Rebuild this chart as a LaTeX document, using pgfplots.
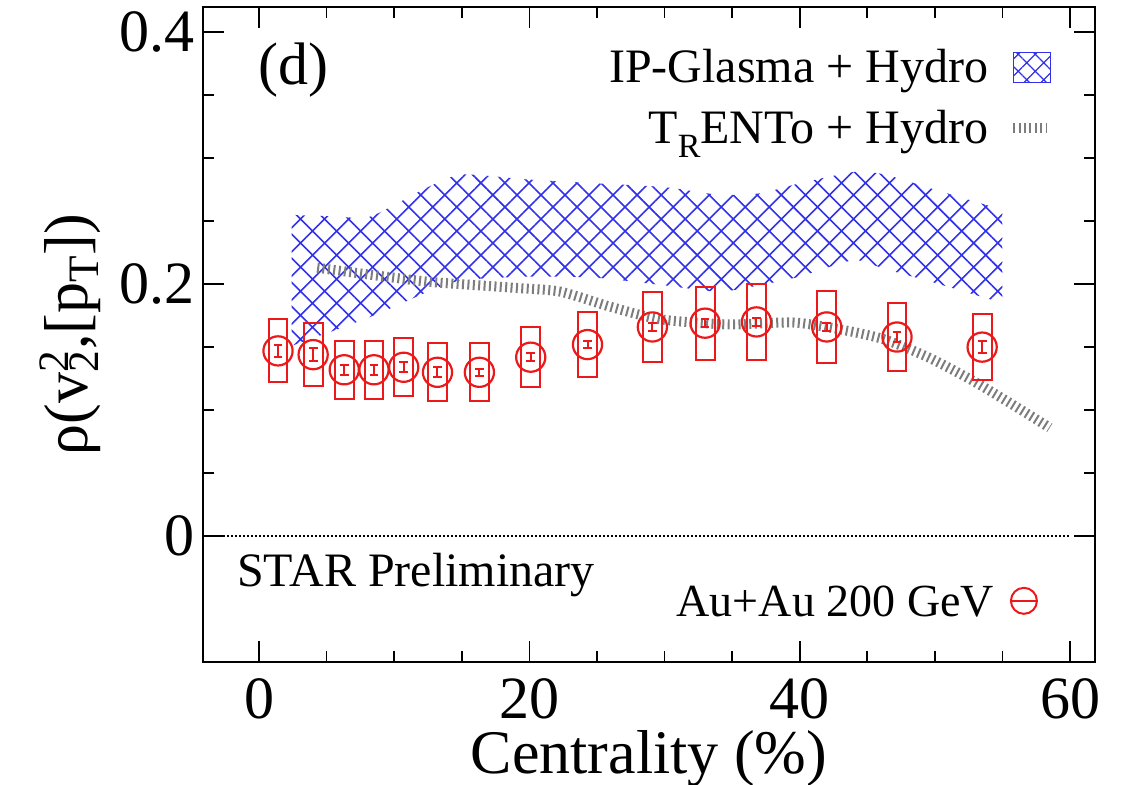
\documentclass[border=0pt]{standalone}
\usepackage{fontspec}
\setmainfont{Liberation Serif}
\usepackage{pgfplots}
\pgfplotsset{compat=1.18}
\usepackage{pgfplotstable}
\usepgfplotslibrary{fillbetween}
\usetikzlibrary{patterns.meta}

\definecolor{starred}{RGB}{235,25,25}
\definecolor{ipblue}{RGB}{50,50,235}
\definecolor{trgray}{RGB}{125,125,125}

% STAR preliminary points: centrality, rho, statistical and systematic errors
\pgfplotstableread{
x     y      stat   sys
1.4   0.147  0.005  0.025
4.0   0.144  0.005  0.025
6.3   0.132  0.004  0.023
8.5   0.132  0.004  0.023
10.7  0.134  0.004  0.023
13.2  0.130  0.004  0.023
16.3  0.130  0.003  0.023
20.1  0.142  0.003  0.024
24.3  0.152  0.003  0.026
29.1  0.166  0.003  0.028
33.0  0.169  0.003  0.029
36.8  0.170  0.003  0.030
42.0  0.166  0.003  0.0285
47.2  0.158  0.004  0.027
53.5  0.150  0.005  0.026
}\stardata

% IP-Glasma + Hydro band: lower and upper edges
\pgfplotstableread{
x     lo     hi
2.4   0.151  0.255
5.0   0.161  0.254
8.0   0.173  0.253
10.2  0.183  0.264
12.5  0.194  0.277
15.0  0.203  0.287
20.0  0.206  0.283
25.0  0.205  0.280
30.0  0.199  0.277
34.0  0.194  0.271
37.0  0.199  0.272
40.0  0.206  0.280
44.0  0.219  0.289
46.3  0.212  0.287
50.0  0.201  0.275
55.0  0.185  0.259
}\ipglasma

% TRENTo + Hydro curve
\pgfplotstableread{
x     y
4.3   0.213
8.2   0.2075
12.4  0.202
15.6  0.1995
19.0  0.197
22.3  0.194
26.0  0.182
29.7  0.172
34.7  0.168
39.6  0.1695
43.5  0.163
46.3  0.156
49.5  0.142
52.7  0.124
55.5  0.106
58.5  0.086
}\trento

\pgfplotsset{
  commonaxis/.style={
    at={(0,0)}, anchor=south west,
    scale only axis, width=446pt, height=327.5pt,
    xmin=-4.15, xmax=61.85, ymin=-0.1, ymax=0.42,
  },
}

\begin{document}
\begin{tikzpicture}
\begin{axis}[
  commonaxis,
  axis line style={line width=1pt},
  every tick/.style={black, line width=0.8pt},
  tick align=inside,
  xtick={0,20,40,60}, minor x tick num=3,
  ytick={0,0.2,0.4}, minor y tick num=3,
  major tick length=10.5pt, minor tick length=5.5pt,
  /pgf/number format/assume math mode=true,
  tick label style={font=\fontsize{30}{30}\selectfont},
  xticklabel style={anchor=base, inner sep=0pt, yshift=-28pt},
  yticklabel style={anchor=east, inner sep=0pt, xshift=-4pt},
  xlabel={Centrality (\%)},
  xlabel style={at={(axis description cs:0.5,-0.1695)}, anchor=base, inner sep=0pt,
    font=\fontsize{31}{31}\selectfont},
  ylabel={ρ(v\rlap{\textsuperscript{2}}\textsubscript{2},[p\textsubscript{T}])},
  ylabel style={at={(axis description cs:-0.130,0.5)}, anchor=base,
    font=\fontsize{31}{31}\selectfont},
  legend cell align=right, legend plot pos=right,
  legend style={at={(0.952,0.937)}, anchor=north east, draw=none, fill=none,
    inner sep=0pt, outer sep=0pt, column sep=10pt, row sep=7.5pt,
    font=\fontsize{24}{24}\selectfont,
    nodes={inner sep=0pt, text height=17pt, text depth=6pt}},
]
\addlegendimage{legend image code/.code={
  \draw[ipblue, line width=0.6pt, pattern={Hatch[angle=45,distance=6pt,line width=0.6pt]},
        pattern color=ipblue] (0pt,-5.5pt) rectangle (18.5pt,9.5pt);}}
\addlegendentry{IP-Glasma + Hydro}
\addlegendimage{legend image code/.code={
  \draw[trgray, line width=5pt, dash pattern=on 1pt off 1.7pt] (0pt,2pt) -- (17pt,2pt);}}
\addlegendentry{T\raisebox{-0.3em}{\fontsize{17}{17}\selectfont R}ENTo + Hydro}

% zero reference line
\addplot[black, line width=1pt, dash pattern=on 1pt off 1pt, forget plot]
  coordinates {(-4.15,0) (60,0)};

% IP-Glasma + Hydro hatched band
\addplot[name path=iplo, draw=none, smooth, tension=0.4, forget plot] table[x=x, y=lo] {\ipglasma};
\addplot[name path=iphi, draw=none, smooth, tension=0.4, forget plot] table[x=x, y=hi] {\ipglasma};
\addplot[draw=none, pattern={Hatch[angle=45,distance=8.5pt,line width=0.8pt]},
  pattern color=ipblue, forget plot] fill between[of=iphi and iplo];

% TRENTo + Hydro
\addplot[trgray, line width=5pt, dash pattern=on 1pt off 1.7pt, smooth, tension=0.4, forget plot]
  table[x=x, y=y] {\trento};

% systematic boxes
\pgfplotsforeachungrouped \i in {0,...,14}{%
  \pgfplotstablegetelem{\i}{x}\of\stardata \let\bx=\pgfplotsretval
  \pgfplotstablegetelem{\i}{y}\of\stardata \let\by=\pgfplotsretval
  \pgfplotstablegetelem{\i}{sys}\of\stardata \let\bs=\pgfplotsretval
  \pgfmathsetmacro\xl{\bx-0.7}\pgfmathsetmacro\xr{\bx+0.7}%
  \pgfmathsetmacro\yl{\by-\bs}\pgfmathsetmacro\yh{\by+\bs}%
  \edef\drawbox{\noexpand\addplot[starred, line width=1pt, forget plot]
    coordinates {(\xl,\yl) (\xr,\yl) (\xr,\yh) (\xl,\yh)} --cycle;}%
  \drawbox
}

% data points with statistical errors
\addplot[starred, only marks, mark=o, mark size=7.3pt, line width=1.1pt, forget plot,
  error bars/.cd, y dir=both, y explicit,
  error mark=|, error mark options={starred, mark size=2.2pt, line width=1pt},
  error bar style={starred, line width=1pt}]
  table[x=x, y=y, y error=stat] {\stardata};

\node[anchor=base west, inner sep=0pt, font=\fontsize{30}{30}\selectfont]
  at (rel axis cs:0.0617,0.882) {(d)};
\node[anchor=base west, inner sep=0pt, font=\fontsize{24}{24}\selectfont]
  at (rel axis cs:0.038,0.115) {STAR Preliminary};
\end{axis}

% second legend for the data set
\begin{axis}[
  commonaxis, hide axis,
  legend cell align=right, legend plot pos=right,
  legend style={at={(0.936,0.116)}, anchor=north east, draw=none, fill=none,
    inner sep=0pt, outer sep=0pt, column sep=8pt,
    font=\fontsize{23}{23}\selectfont,
    nodes={inner sep=0pt, text height=15pt, text depth=5pt}},
]
\addlegendimage{legend image code/.code={
  \draw[starred, line width=1pt] (6.5pt,2.6pt) circle (6.5pt);
  \draw[starred, line width=1pt] (0pt,2.6pt) -- (13pt,2.6pt);}}
\addlegendentry{Au+Au 200 GeV}
\end{axis}

\pgfresetboundingbox
\path[use as bounding box] (-101.5pt,-61pt) rectangle (465pt,331pt);
\end{tikzpicture}
\end{document}
